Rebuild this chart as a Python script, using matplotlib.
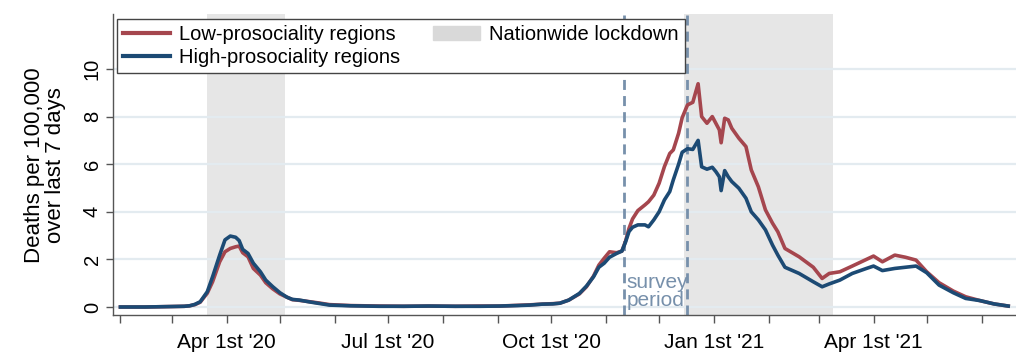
import numpy as np
import matplotlib
matplotlib.use("Agg")
import matplotlib.pyplot as plt
import matplotlib.dates as mdates
from matplotlib.patches import Patch
from matplotlib.lines import Line2D

plt.rcParams["font.family"] = ["Liberation Sans", "DejaVu Sans"]

# weekly-ish readings of deaths per 100,000 (7-day sum)
dates = [
    "2020-02-01", "2020-02-15", "2020-03-01", "2020-03-08", "2020-03-11", "2020-03-14",
    "2020-03-17", "2020-03-21", "2020-03-24", "2020-03-28", "2020-03-31", "2020-04-03",
    "2020-04-06", "2020-04-08", "2020-04-10", "2020-04-13", "2020-04-16", "2020-04-20",
    "2020-04-23", "2020-04-27", "2020-05-01", "2020-05-05", "2020-05-08", "2020-05-12",
    "2020-05-18", "2020-05-23", "2020-05-29", "2020-06-10", "2020-06-26", "2020-07-10",
    "2020-07-24", "2020-08-08", "2020-08-22", "2020-09-02", "2020-09-12", "2020-09-19",
    "2020-09-26", "2020-10-02", "2020-10-06", "2020-10-11", "2020-10-17", "2020-10-21",
    "2020-10-25", "2020-10-28", "2020-10-31", "2020-11-03", "2020-11-07", "2020-11-10",
    "2020-11-12", "2020-11-14", "2020-11-16", "2020-11-19", "2020-11-23", "2020-11-25",
    "2020-11-28", "2020-12-01", "2020-12-04", "2020-12-07", "2020-12-09", "2020-12-12",
    "2020-12-14", "2020-12-17", "2020-12-20", "2020-12-23", "2020-12-25", "2020-12-28",
    "2020-12-31", "2021-01-02", "2021-01-04", "2021-01-05", "2021-01-07", "2021-01-09",
    "2021-01-11", "2021-01-15", "2021-01-19", "2021-01-22", "2021-01-26", "2021-01-30",
    "2021-02-03", "2021-02-06", "2021-02-10", "2021-02-18", "2021-02-26", "2021-03-03",
    "2021-03-07", "2021-03-13", "2021-03-20", "2021-03-28", "2021-04-01", "2021-04-06",
    "2021-04-13", "2021-04-19", "2021-04-25", "2021-05-01", "2021-05-08", "2021-05-16",
    "2021-05-23", "2021-05-31", "2021-06-08", "2021-06-16",
]
low_prosocial = [
    0.00, 0.00, 0.02, 0.03, 0.05, 0.10,
    0.20, 0.58, 1.06, 1.90, 2.32, 2.46,
    2.53, 2.56, 2.28, 2.11, 1.62, 1.34,
    1.02, 0.76, 0.55, 0.41, 0.31, 0.28,
    0.22, 0.17, 0.10, 0.06, 0.04, 0.03,
    0.04, 0.03, 0.04, 0.04, 0.07, 0.09,
    0.12, 0.14, 0.16, 0.29, 0.55, 0.85,
    1.30, 1.76, 2.05, 2.32, 2.28, 2.35,
    2.75, 3.30, 3.70, 4.05, 4.29, 4.42,
    4.70, 5.20, 5.90, 6.45, 6.60, 7.30,
    7.95, 8.49, 8.60, 9.38, 8.00, 7.72,
    8.00, 7.72, 7.44, 6.90, 7.93, 7.86,
    7.51, 7.09, 6.74, 5.76, 5.05, 4.08,
    3.52, 3.16, 2.46, 2.11, 1.67, 1.20,
    1.41, 1.48, 1.72, 2.00, 2.14, 1.90,
    2.18, 2.09, 1.97, 1.48, 1.02, 0.67,
    0.43, 0.27, 0.13, 0.04,
]
high_prosocial = [
    0.00, 0.00, 0.02, 0.03, 0.05, 0.11,
    0.22, 0.64, 1.27, 2.18, 2.82, 2.98,
    2.93, 2.79, 2.42, 2.25, 1.84, 1.48,
    1.13, 0.85, 0.60, 0.41, 0.32, 0.29,
    0.21, 0.15, 0.08, 0.05, 0.03, 0.03,
    0.04, 0.03, 0.03, 0.04, 0.06, 0.08,
    0.12, 0.13, 0.16, 0.29, 0.57, 0.88,
    1.27, 1.67, 1.84, 2.09, 2.25, 2.35,
    2.72, 3.17, 3.35, 3.45, 3.45, 3.37,
    3.66, 4.00, 4.50, 4.85, 5.34, 6.00,
    6.50, 6.65, 6.62, 7.00, 5.89, 5.79,
    5.87, 5.69, 5.47, 4.89, 5.73, 5.47,
    5.27, 4.99, 4.57, 4.00, 3.66, 3.24,
    2.60, 2.18, 1.67, 1.41, 1.06, 0.85,
    0.97, 1.13, 1.41, 1.62, 1.72, 1.53,
    1.62, 1.67, 1.72, 1.44, 0.92, 0.60,
    0.36, 0.27, 0.13, 0.04,
]
lockdowns = [("2020-03-21", "2020-05-04"), ("2020-12-15", "2021-03-09")]
survey_period = ["2020-11-11", "2020-12-17"]
label_months = ["2020-04-01", "2020-07-01", "2020-10-01", "2021-01-01", "2021-04-01"]
label_texts = ["Apr 1st '20", "Jul 1st '20", "Oct 1st '20", "Jan 1st '21", "Apr 1st '21"]

c_low = "#a5464e"
c_high = "#1c4a74"
c_shade = "#e6e6e6"
c_survey = "#7790ab"
c_axis = "#555555"

t = mdates.datestr2num(dates)

fig = plt.figure(figsize=(10.16, 3.56), dpi=100)
ax = fig.add_axes([113 / 1016, 41 / 356, (1016 - 113) / 1016, 301 / 356])

for a, b in lockdowns:
    ax.axvspan(mdates.datestr2num(a), mdates.datestr2num(b), color=c_shade, lw=0, zorder=0)
for d in survey_period:
    ax.axvline(mdates.datestr2num(d), color=c_survey, lw=2, ls=(0, (3.6, 2.2)), zorder=1)

ax.plot(t, low_prosocial, color=c_low, lw=2.6, zorder=3, solid_joinstyle="round")
ax.plot(t, high_prosocial, color=c_high, lw=2.6, zorder=4, solid_joinstyle="round")

ax.text(mdates.datestr2num(survey_period[0]) + 1.8, -0.12, "survey\nperiod", color=c_survey,
        fontsize=15, ha="left", va="bottom", linespacing=0.95, zorder=5)

# axes: limits from the picture
x0 = mdates.datestr2num("2020-04-01")
ax.set_xlim(x0 - 64.2, x0 + 445.4)
ax.set_ylim(-0.336, 12.31)

ax.set_yticks([0, 2, 4, 6, 8, 10])
ax.grid(axis="y", color="#e3ebf0", lw=1.6)
ax.set_axisbelow(True)
ax.tick_params(axis="y", labelrotation=90, labelsize=14.5, length=5, width=1,
               color=c_axis, pad=3)
for lab in ax.get_yticklabels():
    lab.set_va("center")

months = mdates.datestr2num(["2020-%02d-01" % m for m in range(2, 13)] +
                            ["2021-%02d-01" % m for m in range(1, 7)])
ax.set_xticks(months)
lab_nums = list(mdates.datestr2num(label_months))
ax.set_xticklabels([label_texts[lab_nums.index(m)] if m in lab_nums else "" for m in months])
ax.tick_params(axis="x", labelsize=15, length=6, width=1, color=c_axis, pad=7)

for s in ["top", "right"]:
    ax.spines[s].set_visible(False)
for s in ["left", "bottom"]:
    ax.spines[s].set_color(c_axis)
    ax.spines[s].set_linewidth(1)

fig.text(45 / 1016, 0.5365, "Deaths per 100,000\nover last 7 days", rotation=90,
         ha="center", va="center", fontsize=16, multialignment="center", linespacing=1.05)

handles = [Line2D([], [], color=c_low, lw=3), Line2D([], [], color=c_high, lw=3),
           Patch(color="#d9d9d9")]
labels = ["Low-prosociality regions", "High-prosociality regions", "Nationwide lockdown"]
leg = ax.legend(handles, labels, ncol=2, loc="upper left",
                bbox_to_anchor=(117 / 1016, 1 - 19 / 356), bbox_transform=fig.transFigure,
                fontsize=14.5, frameon=True, fancybox=False, framealpha=1,
                edgecolor="#444444", borderpad=0.3, labelspacing=0.2,
                handlelength=2.35, handletextpad=0.45, columnspacing=1.6,
                borderaxespad=0)
leg.get_frame().set_linewidth(1)

fig.savefig("out.png", dpi=100)
